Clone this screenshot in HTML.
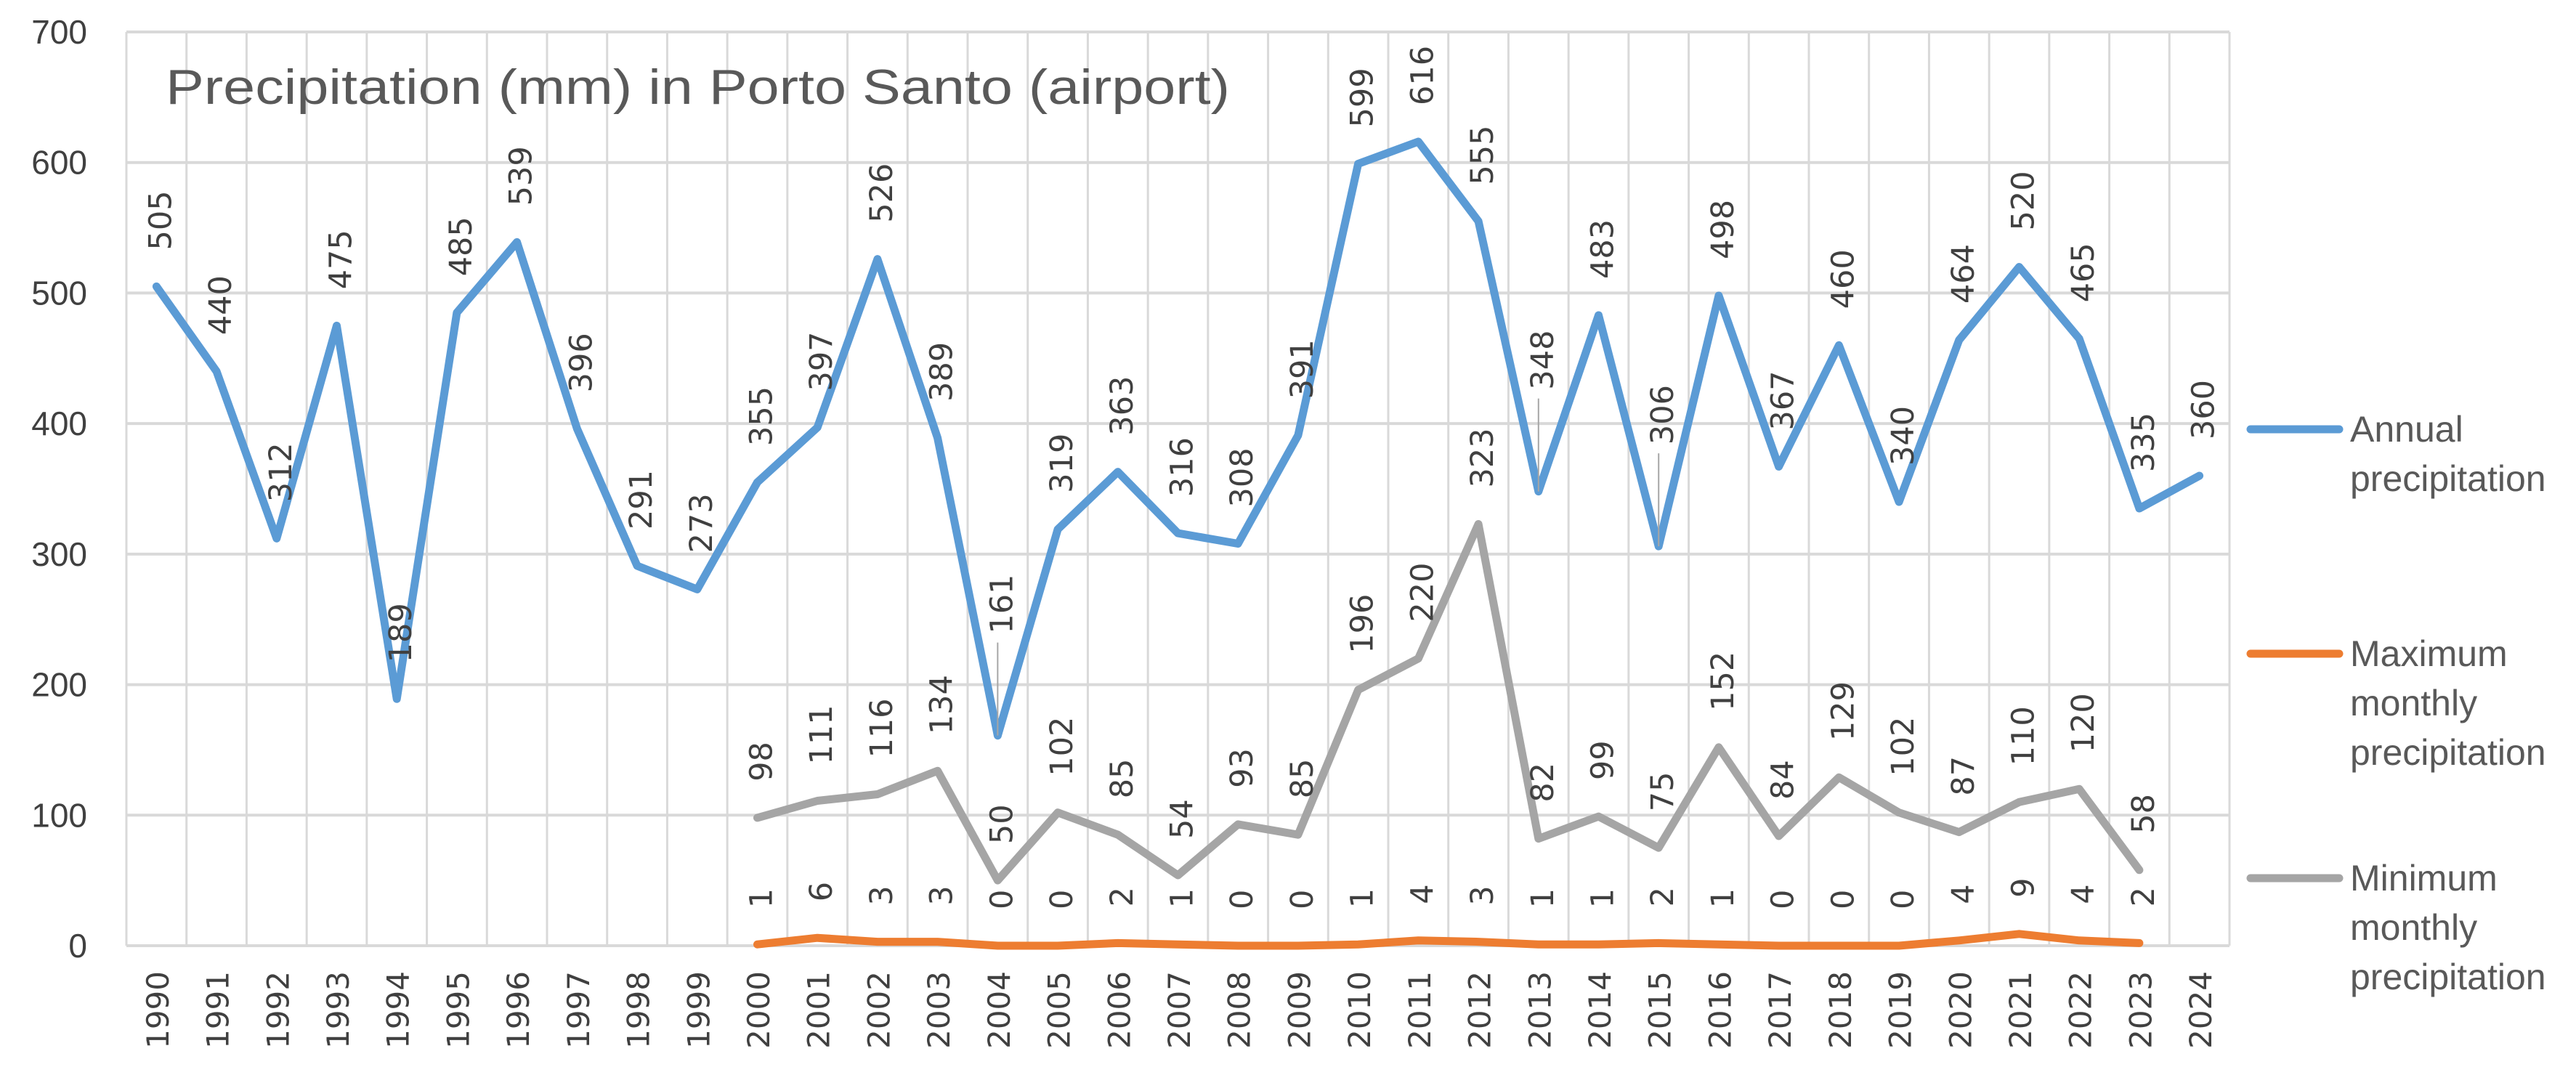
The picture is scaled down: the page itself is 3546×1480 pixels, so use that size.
<!DOCTYPE html>
<html><head><meta charset="utf-8"><style>
html,body{margin:0;padding:0;background:#fff;}
svg{display:block;}
</style></head><body>
<svg id="chart" width="3546" height="1480" viewBox="0 0 3546 1480" xmlns="http://www.w3.org/2000/svg">
<rect x="0" y="0" width="3546" height="1480" fill="#fff"/>
<g id="grid"></g>
<g id="yticks"></g>
<g id="xticks"></g>
<text x="228" y="143" font-family="Liberation Sans, sans-serif" font-size="68" fill="#595959" textLength="1465" lengthAdjust="spacingAndGlyphs">Precipitation (mm) in Porto Santo (airport)</text>
<g id="series"></g>
<g id="labels"></g>
<g id="legend"></g>
</svg>
<script>
const years = [1990,1991,1992,1993,1994,1995,1996,1997,1998,1999,2000,2001,2002,2003,2004,2005,2006,2007,2008,2009,2010,2011,2012,2013,2014,2015,2016,2017,2018,2019,2020,2021,2022,2023,2024];
const annual = [505,440,312,475,189,485,539,396,291,273,355,397,526,389,161,319,363,316,308,391,599,616,555,348,483,306,498,367,460,340,464,520,465,335,360];
const maxMonthly = [null,null,null,null,null,null,null,null,null,null,1,6,3,3,0,0,2,1,0,0,1,4,3,1,1,2,1,0,0,0,4,9,4,2,null];
const minMonthly = [null,null,null,null,null,null,null,null,null,null,98,111,116,134,50,102,85,54,93,85,196,220,323,82,99,75,152,84,129,102,87,110,120,58,null];
const yTicks = [0,100,200,300,400,500,600,700];
const leaderYears = [2004,2013,2015];

const NS = 'http://www.w3.org/2000/svg';
const L = 174, R = 3069, Y0 = 1302, Y700 = 44;
const colW = (R - L) / years.length;
function xScale(i){ return L + colW * (i + 0.5); }
function yScale(v){ return Y0 - (Y0 - Y700) * v / 700; }
function mk(tag, attrs, parent){ const e = document.createElementNS(NS, tag); for (const k in attrs) e.setAttribute(k, attrs[k]); parent.appendChild(e); return e; }

const grid = document.getElementById('grid');
yTicks.forEach(t => {
  const l = mk('line', {x1:L, x2:R, y1:yScale(t), y2:yScale(t), stroke:'#d9d9d9', 'stroke-width':4}, grid);
  
  
});
for (let i = 0; i <= years.length; i++) {
  const x = L + colW * i;
  const l = mk('line', {x1:x, x2:x, y1:Y700, y2:Y0, stroke:'#d9d9d9', 'stroke-width':3}, grid);
  
  
}
const yt = document.getElementById('yticks');
yTicks.forEach(t => {
  const tx = mk('text', {x:120, y:yScale(t)+16, 'text-anchor':'end', 'font-family':'Liberation Sans, sans-serif', 'font-size':46, fill:'#404040'}, yt);
  tx.textContent = t;
  
  
});
const xt = document.getElementById('xticks');
years.forEach((yr, i) => {
  const tx = mk('text', {transform:`translate(${xScale(i)+2},1337) rotate(-90)`, 'text-anchor':'end', 'dominant-baseline':'central', 'font-family':'DejaVu Sans, sans-serif', 'font-size':42, fill:'#404040'}, xt);
  tx.textContent = yr;
  
  
});

const seriesG = document.getElementById('series');
const labelsG = document.getElementById('labels');
function drawSeries(arr, color, name) {
  let d = '';
  arr.forEach((v, i) => { if (v === null) return; d += (d ? 'L' : 'M') + xScale(i).toFixed(1) + ',' + yScale(v).toFixed(1); });
  const p = mk('path', {d:d, fill:'none', stroke:color, 'stroke-width':11, 'stroke-linejoin':'round', 'stroke-linecap':'round'}, seriesG);
  
  
}
function drawLabels(arr, name, leaders) {
  arr.forEach((v, i) => {
    if (v === null) return;
    const x = xScale(i) + 6, y = yScale(v);
    const lead = leaders && leaderYears.includes(years[i]);
    const gap = lead ? 140 : 50;
    if (lead) {
      const ln = mk('line', {x1:xScale(i), x2:xScale(i), y1:y - gap + 12, y2:y, stroke:'#a6a6a6', 'stroke-width':2}, labelsG);
      
      
    }
    const tx = mk('text', {transform:`translate(${x},${y-gap}) rotate(-90)`, 'text-anchor':'start', 'dominant-baseline':'central', 'font-family':'DejaVu Sans, sans-serif', 'font-size':43, fill:'#404040'}, labelsG);
    tx.textContent = v;
    
    
  });
}
drawSeries(minMonthly, '#a5a5a5', 'minimum-monthly');
drawSeries(maxMonthly, '#ed7d31', 'maximum-monthly');
drawSeries(annual, '#5b9bd5', 'annual');
drawLabels(annual, 'annual', true);
drawLabels(maxMonthly, 'maximum-monthly', false);
drawLabels(minMonthly, 'minimum-monthly', false);

const legendG = document.getElementById('legend');
const legendItems = [
  {y:591, color:'#5b9bd5', lines:['Annual','precipitation'], name:'legend-annual'},
  {y:900, color:'#ed7d31', lines:['Maximum','monthly','precipitation'], name:'legend-maximum-monthly'},
  {y:1209, color:'#a5a5a5', lines:['Minimum','monthly','precipitation'], name:'legend-minimum-monthly'}
];
legendItems.forEach(it => {
  const g = mk('g', {}, legendG);
  
  
  mk('line', {x1:3098, x2:3220, y1:it.y, y2:it.y, stroke:it.color, 'stroke-width':11, 'stroke-linecap':'round'}, g);
  it.lines.forEach((t, k) => {
    const tx = mk('text', {x:3235, y:it.y + 17 + k*68, 'font-family':'Liberation Sans, sans-serif', 'font-size':50, fill:'#595959'}, g);
    tx.textContent = t;
  });
});
</script>
</body></html>
